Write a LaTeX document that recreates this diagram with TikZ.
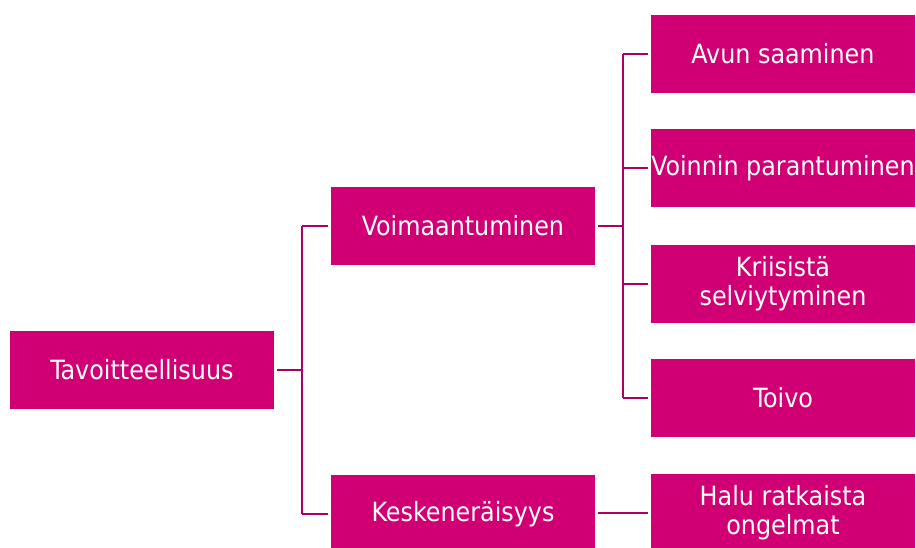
\documentclass[tikz,border=0pt]{standalone}
\usepackage{fontspec}
\setmainfont{DejaVu Sans Condensed}
\definecolor{boxfill}{RGB}{208,0,116}
\definecolor{linecol}{RGB}{172,0,98}
\begin{document}
\begin{tikzpicture}[x=1pt,y=-1pt,
  box/.style={rectangle,fill=boxfill,text=white,minimum width=264pt,minimum height=78pt,inner sep=0pt,align=center,font=\fontsize{26.5}{29}\selectfont},
  conn/.style={draw=linecol,line width=2.8pt}]
\useasboundingbox (0,0) rectangle (916,548);
\clip (0,0) rectangle (916,548);
\node[box] (t) at (142,370) {Tavoitteellisuus};
\node[box] (v) at (463,226) {Voimaantuminen};
\node[box] (k) at (463,514) {Keskeneräisyys};
\node[box] (a) at (783,54) {Avun saaminen};
\node[box] (p) at (783,168) {Voinnin parantuminen};
\node[box] (s) at (783,284) {Kriisistä\\selviytyminen};
\node[box] (o) at (783,398) {Toivo};
\node[box] (h) at (783,513) {Halu ratkaista\\ongelmat};
\coordinate (j1) at (302,370);
\coordinate (j2) at (623,226);
\draw[conn] ([xshift=3pt]t.east) -- (j1);
\draw[conn] (j1 |- v.west) -- (j1 |- k.west);
\draw[conn] (j1 |- v.west) -- ([xshift=-3pt]v.west);
\draw[conn] (j1 |- k.west) -- ([xshift=-3pt]k.west);
\draw[conn] ([xshift=3pt]v.east) -- (j2);
\draw[conn] (j2 |- a.west) -- (j2 |- o.west);
\draw[conn] (j2 |- a.west) -- ([xshift=-3pt]a.west);
\draw[conn] (j2 |- p.west) -- ([xshift=-3pt]p.west);
\draw[conn] (j2 |- s.west) -- ([xshift=-3pt]s.west);
\draw[conn] (j2 |- o.west) -- ([xshift=-3pt]o.west);
\draw[conn] ([xshift=3pt]k.east |- h.west) -- ([xshift=-3pt]h.west);
\end{tikzpicture}
\end{document}
